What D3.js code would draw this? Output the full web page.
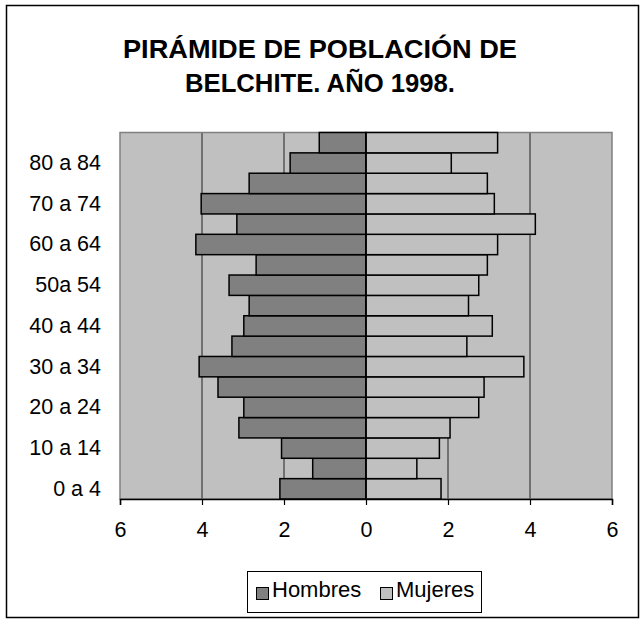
<!DOCTYPE html>
<html>
<head>
<meta charset="utf-8">
<script src="https://cdn.jsdelivr.net/npm/d3@7"></script>
<style>
  html, body { margin: 0; padding: 0; background: #fff; }
  svg { display: block; font-family: "Liberation Sans", Arial, sans-serif; }
</style>
</head>
<body>
<svg id="chart" width="641" height="619"></svg>
<script>
// Age groups, youngest first (bottom of the pyramid)
const ageGroups = ["0 a 4", "5 a 9", "10 a 14", "15 a 19", "20 a 24", "25 a 29",
  "30 a 34", "35 a 39", "40 a 44", "45 a 49", "50a 54", "55 a 59",
  "60 a 64", "65 a 69", "70 a 74", "75 a 79", "80 a 84", "85 y más"];

// Percentage of total population per age group
const hombres = [2.10, 1.30, 2.06, 3.10, 2.98, 3.61, 4.07, 3.27, 2.98, 2.85,
  3.34, 2.68, 4.15, 3.15, 4.02, 2.85, 1.85, 1.14];
const mujeres = [1.83, 1.24, 1.79, 2.05, 2.75, 2.88, 3.85, 2.46, 3.08, 2.50,
  2.75, 2.96, 3.21, 4.13, 3.13, 2.96, 2.08, 3.21];

const xTicks = [-6, -4, -2, 0, 2, 4, 6];
const seriesNames = ["Hombres", "Mujeres"];
const titleLines = ["PIRÁMIDE DE POBLACIÓN DE", "BELCHITE. AÑO 1998."];

const svg = d3.select("#chart");
const colorMen = "#808080", colorWomen = "#c0c0c0";
const labelSize = 21.5;

// Outer chart frame
svg.append("rect")
  .attr("x", 6.5).attr("y", 5.5).attr("width", 632).attr("height", 612)
  .attr("fill", "#fff").attr("stroke", "#000").attr("stroke-width", 1.5);

// Title
const titleWidths = [394, 270];
svg.append("g").selectAll("text").data(titleLines).join("text")
  .attr("x", 320).attr("y", (d, i) => 58 + i * 34)
  .attr("text-anchor", "middle")
  .attr("font-size", 26.5).attr("font-weight", "bold")
  .attr("textLength", (d, i) => titleWidths[i])
  .attr("lengthAdjust", "spacingAndGlyphs")
  .text(d => d);

const plot = { left: 120, right: 612, top: 132.5, bottom: 499 };

const x = d3.scaleLinear().domain([-6, 6]).range([plot.left, plot.right]);
const y = d3.scaleBand().domain(ageGroups)
  .range([plot.bottom, plot.top]).paddingInner(0).paddingOuter(0);

// Plot background
svg.append("rect")
  .attr("x", plot.left).attr("y", plot.top)
  .attr("width", plot.right - plot.left).attr("height", plot.bottom - plot.top)
  .attr("fill", "#c0c0c0");

// Vertical gridlines
svg.append("g").selectAll("line")
  .data(xTicks.filter(t => Math.abs(t) !== 6 && t !== 0)).join("line")
  .attr("x1", d => x(d)).attr("x2", d => x(d))
  .attr("y1", plot.top).attr("y2", plot.bottom)
  .attr("stroke", "#222").attr("stroke-width", 1);

// Plot border
svg.append("rect")
  .attr("x", plot.left).attr("y", plot.top)
  .attr("width", plot.right - plot.left).attr("height", plot.bottom - plot.top)
  .attr("fill", "none").attr("stroke", "#808080").attr("stroke-width", 1.5);

// Bars: men to the left of zero, women to the right
const bars = svg.append("g").attr("stroke", "#000").attr("stroke-width", 1.5);
bars.selectAll("rect.h").data(ageGroups).join("rect").attr("class", "h")
  .attr("x", (d, i) => x(-hombres[i]))
  .attr("y", d => y(d))
  .attr("width", (d, i) => x(0) - x(-hombres[i]))
  .attr("height", y.bandwidth())
  .attr("fill", colorMen);
bars.selectAll("rect.m").data(ageGroups).join("rect").attr("class", "m")
  .attr("x", x(0))
  .attr("y", d => y(d))
  .attr("width", (d, i) => x(mujeres[i]) - x(0))
  .attr("height", y.bandwidth())
  .attr("fill", colorWomen);

// Zero line
svg.append("line")
  .attr("x1", x(0)).attr("x2", x(0)).attr("y1", plot.top).attr("y2", plot.bottom)
  .attr("stroke", "#000").attr("stroke-width", 1.5);

// X axis: absolute values on both sides
const xAxis = d3.axisBottom(x).tickValues(xTicks)
  .tickFormat(d => Math.abs(d)).tickSize(6).tickPadding(17);
const gx = svg.append("g").attr("transform", `translate(0,${plot.bottom})`).call(xAxis);
gx.select(".domain").attr("stroke", "#000").attr("stroke-width", 1.5);
gx.selectAll(".tick line").attr("stroke", "#000").attr("stroke-width", 1.2);
gx.selectAll("text").attr("font-size", labelSize).attr("fill", "#000")
  .attr("font-family", "Liberation Sans, Arial, sans-serif");

// Y axis labels: every other age group
const yAxis = d3.axisLeft(y)
  .tickValues(ageGroups.filter((d, i) => i % 2 === 0))
  .tickSize(0).tickPadding(19);
const gy = svg.append("g").attr("transform", `translate(${plot.left},0)`).call(yAxis);
gy.select(".domain").remove();
gy.selectAll("text").attr("font-size", labelSize).attr("fill", "#000")
  .attr("font-family", "Liberation Sans, Arial, sans-serif");

// Legend
const legend = svg.append("g");
legend.append("rect")
  .attr("x", 247.5).attr("y", 571.5).attr("width", 234).attr("height", 41)
  .attr("fill", "#fff").attr("stroke", "#000").attr("stroke-width", 1);
const legendX = [256, 380];
const legendItems = legend.selectAll("g.item").data(seriesNames).join("g")
  .attr("transform", (d, i) => `translate(${legendX[i]},587)`);
legendItems.append("rect")
  .attr("x", 0.5).attr("y", 0.5).attr("width", 12).attr("height", 12)
  .attr("fill", (d, i) => i === 0 ? colorMen : colorWomen)
  .attr("stroke", "#000").attr("stroke-width", 1);
legendItems.append("text")
  .attr("x", 16).attr("y", 10)
  .attr("font-size", 22)
  .text(d => d);
</script>
</body>
</html>
